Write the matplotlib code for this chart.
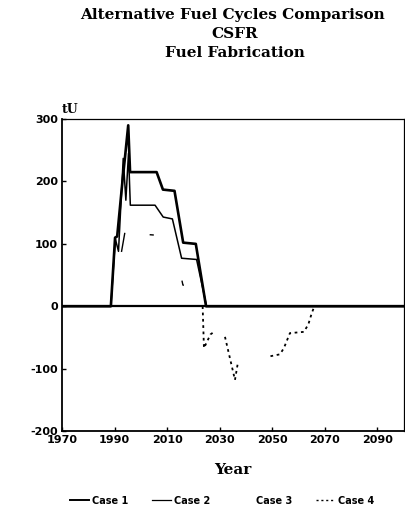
import numpy as np
import matplotlib
matplotlib.use("Agg")
import matplotlib.pyplot as plt
from matplotlib.lines import Line2D

plt.rcParams["axes.unicode_minus"] = False

# Fuel fabrication requirement (tU) per case
years_1 = [1970, 1988.6, 1990.2, 1991.0, 1993.0, 1994.0, 1995.2, 1995.9,
           2006.0, 2008.4, 2012.8, 2016.1, 2020.9, 2024.8, 2100]
case_1 = [0, 0, 110, 112, 200, 240, 290, 215, 215, 187, 185, 102, 100, 0, 0]

years_2 = [1970, 1988.6, 1990.3, 1991.5, 1993.3, 1994.3, 1995.3, 1996.0,
           2005.4, 2008.5, 2012.0, 2015.5, 2021.2, 2025.0, 2100]
case_2 = [0, 0, 108, 88, 237, 170, 245, 162, 162, 143, 140, 77, 75, 0, 0]

years_3 = [1989, 1994.0, 1996.0, 2012.0, 2016.0, 2020.0, 2024.0]
case_3 = [0, 120, 117, 112, 34, 30, 0]

years_4 = [2023.5, 2024.0, 2026.5, 2027.5, np.nan,
           2032.0, 2035.8, 2037.0, np.nan,
           2049.3, 2052.9, 2054.4, 2056.7, 2062.0, 2063.7, 2065.0, 2066.0]
case_4 = [0, -67, -45, -42, np.nan,
          -49, -118, -88, np.nan,
          -80, -77, -67, -43, -41, -29, -11, 0]

year_ticks = [1970, 1990, 2010, 2030, 2050, 2070, 2090]
tu_ticks = [-200, -100, 0, 100, 200, 300]
case_labels = ["Case 1", "Case 2", "Case 3", "Case 4"]

fig = plt.figure(figsize=(4.05, 5.2), dpi=100)
ax = fig.add_axes([0.153, 0.171, 0.844, 0.600])

ax.axhline(0, color="black", lw=1.6, zorder=1)
ax.plot(years_1, case_1, color="black", lw=1.9, zorder=3)
ax.plot(years_2, case_2, color="black", lw=1.1, zorder=3)
# case 3 is drawn with a very sparse dash pattern, only a few strokes show
ax.plot(years_3, case_3, color="black", lw=1.0, zorder=2,
        linestyle=(0, (0.01, 39.7, 14, 19, 3, 46, 4, 200)))
ax.plot(years_4, case_4, color="black", lw=1.3, dashes=(1.5, 2.0), zorder=2)

ax.set_xlim(1970, 2100)
ax.set_ylim(-200, 300)
ax.set_xticks(year_ticks)
ax.set_yticks(tu_ticks)
ax.tick_params(direction="in", length=3, width=1, pad=3)
for lab in ax.get_xticklabels() + ax.get_yticklabels():
    lab.set_fontweight("bold")
    lab.set_fontsize(8)
for side in ["left", "bottom"]:
    ax.spines[side].set_linewidth(1.3)
for side in ["top", "right"]:
    ax.spines[side].set_linewidth(0.9)

ax.set_xlabel("Year", fontsize=11, fontweight="bold", family="DejaVu Serif",
              labelpad=13)
ax.text(0.0, 1.01, "tU", transform=ax.transAxes, fontsize=9, fontweight="bold",
        family="DejaVu Serif", ha="left", va="bottom")

title_font = dict(ha="center", va="center", fontsize=11, fontweight="bold",
                  family="DejaVu Serif")
fig.text(0.573, 0.971, "Alternative Fuel Cycles Comparison", **title_font)
fig.text(0.58, 0.935, "CSFR", **title_font)
fig.text(0.58, 0.899, "Fuel Fabrication", **title_font)

handles = [
    Line2D([], [], color="black", lw=1.4),
    Line2D([], [], color="black", lw=0.9),
    Line2D([], [], linestyle="none"),
    Line2D([], [], color="black", lw=1.0, dashes=(1.5, 2.0)),
]
fig.legend(handles, case_labels, loc="center", bbox_to_anchor=(0.548, 0.037),
           ncol=4, frameon=False, handlelength=2.0, handletextpad=0.3,
           columnspacing=2.4, prop={"weight": "bold", "size": 7})

fig.savefig("out.png", dpi=100)
